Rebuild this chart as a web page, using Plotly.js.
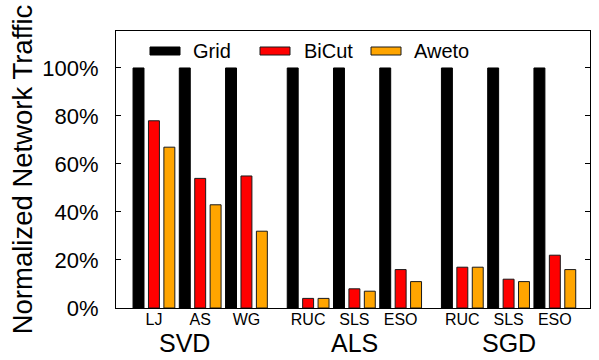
<!DOCTYPE html>
<html>
<head>
<meta charset="utf-8">
<script src="https://cdn.plot.ly/plotly-3.0.1.min.js"></script>
<style>html,body{margin:0;padding:0;background:#fff}#chart{width:599px;height:360px}</style>
</head>
<body>
<div id="chart"></div>
<script>
const groups = ['SVD', 'ALS', 'SGD'];
const subLabels = ['LJ', 'AS', 'WG', 'RUC', 'SLS', 'ESO', 'RUC', 'SLS', 'ESO'];
const groupOf = [0, 0, 0, 1, 1, 1, 2, 2, 2];
const seriesNames = ['Grid', 'BiCut', 'Aweto'];
const grid  = [100, 100, 100, 100, 100, 100, 100, 100, 100];
const bicut = [78, 54, 55, 4, 8, 16, 17, 12, 22];
const aweto = [67, 43, 32, 4, 7, 11, 17, 11, 16];
const yTickVals = [0, 20, 40, 60, 80, 100];
const yTickText = ['0%', '20%', '40%', '60%', '80%', '100%'];
const colors = ['#000000', '#ff0000', '#ffa500'];

// layout positions: each sub-category takes 3 slots, 1 extra slot between groups
const xs = subLabels.map((_, i) => groupOf[i] * 10 + (i % 3) * 3 + 1);
const groupCenters = groups.map((_, g) => g === 0 ? 3 : g * 10 + 4);

const FONT = 'Liberation Sans, Arial, Helvetica, sans-serif';
const L = 116, R = 590, T = 31, B = 308, W = 599, H = 360;
const pw = R - L, ph = B - T;
const px = v => (v - L) / pw;
const py = v => (B - v) / ph;

const vals = [grid, bicut, aweto];
const traces = vals.map((v, k) => ({
  type: 'bar',
  name: seriesNames[k],
  x: xs,
  y: v,
  marker: {color: colors[k], line: {color: k === 0 ? '#000' : '#1a1a1a', width: 1}},
  showlegend: false,
  hoverinfo: 'skip'
}));

// custom legend (long flat swatches like the reference)
const swatchX = [150, 260, 371];
const textX = [192, 303, 413];
const shapes = seriesNames.map((n, k) => ({
  type: 'rect', xref: 'paper', yref: 'paper',
  x0: px(swatchX[k]), x1: px(swatchX[k] + 30), y0: py(55), y1: py(47),
  fillcolor: colors[k], line: {color: k === 0 ? '#000' : '#1a1a1a', width: 1}
}));
const annotations = seriesNames.map((n, k) => ({
  text: n, xref: 'paper', yref: 'paper', x: px(textX[k] - 1), y: py(51),
  xanchor: 'left', yanchor: 'middle', showarrow: false,
  font: {family: FONT, size: 20, color: '#000'}
}));
groups.forEach((g, i) => annotations.push({
  text: g, xref: 'x', yref: 'paper', x: groupCenters[i], y: 0,
  xanchor: 'center', yanchor: 'middle', yshift: -35, showarrow: false,
  font: {family: FONT, size: 25, color: '#000'}
}));

const layout = {
  width: W, height: H,
  margin: {l: L, r: W - R, t: T, b: H - B, pad: 0},
  paper_bgcolor: '#fff', plot_bgcolor: '#fff',
  font: {family: FONT, color: '#000'},
  barmode: 'group', bargap: 0, bargroupgap: 0.29,
  xaxis: {
    range: [-1.46, 29.28], tickvals: xs, ticktext: subLabels,
    ticks: '', showgrid: false, zeroline: false,
    showline: true, linecolor: '#000', linewidth: 1, mirror: true,
    tickfont: {family: FONT, size: 16, color: '#000'},
    ticklabelstandoff: -3
  },
  yaxis: {
    range: [0, 115.4], tickvals: yTickVals, ticktext: yTickText,
    ticks: 'inside', ticklen: 5, tickcolor: '#000', tickwidth: 1,
    showgrid: false, zeroline: false,
    showline: true, linecolor: '#000', linewidth: 1, mirror: 'ticks',
    tickfont: {family: FONT, size: 22, color: '#000'},
    ticklabelstandoff: 12,
    automargin: false,
    title: {text: 'Normalized Network Traffic', font: {family: FONT, size: 27.5, color: '#000'}, standoff: 1}
  },
  shapes: shapes,
  annotations: annotations
};

Plotly.newPlot('chart', traces, layout, {displayModeBar: false, staticPlot: true});
</script>
</body>
</html>
